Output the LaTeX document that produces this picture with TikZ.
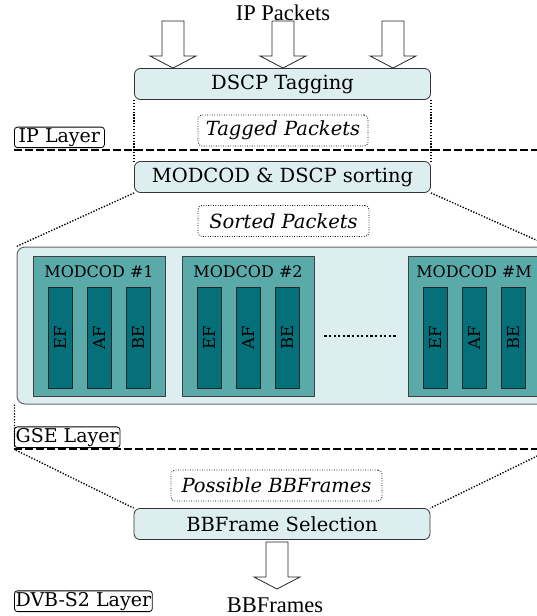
\documentclass[tikz,border=0pt]{standalone}
\usepackage{fontspec}
\setmainfont{DejaVu Serif}
\newfontfamily\timesfont{Liberation Serif}
\usetikzlibrary{positioning}
\definecolor{paleblue}{HTML}{DDEEF0}
\definecolor{modteal}{HTML}{5AAAAA}
\definecolor{barteal}{HTML}{05707A}
\tikzset{pics/fatarrow/.style={code={
  \draw[fill=white,draw=black!85,line width=0.8pt] (-11,0) -- (-11,35) -- (-23,35) -- (0,47) -- (23,35) -- (11,35) -- (11,0) -- cycle;}}}

\begin{document}
\begin{tikzpicture}[x=1pt,y=-1pt,
  stagebox/.style={draw=black!80,line width=0.8pt,rounded corners=6pt,fill=paleblue,minimum width=296pt,minimum height=31pt,inner sep=0pt,font=\fontsize{19.5}{23}\selectfont},
  flowlabel/.style={draw,line width=0.8pt,dash pattern=on 0.8pt off 1.6pt,rounded corners=4pt,inner sep=0pt,minimum height=31pt,font=\fontsize{19.5}{23}\selectfont\itshape},
  layerlabel/.style={draw,line width=0.8pt,rounded corners=3pt,inner sep=1.2pt,anchor=south west,font=\fontsize{19}{23}\selectfont},
  layerline/.style={line width=1.7pt,dash pattern=on 8pt off 3pt},
  guide/.style={line width=1.4pt,dash pattern=on 1.3pt off 1.6pt},
  modbox/.style={draw=black!75,line width=0.8pt,fill=modteal,minimum width=132pt,minimum height=140pt},
  modtitle/.style={font=\fontsize{16}{19}\selectfont},
  qbar/.style={draw=black!85,line width=0.8pt,fill=barteal,rotate=90,minimum width=101pt,minimum height=24pt,inner sep=0pt,font=\fontsize{16.5}{19}\selectfont}]
\useasboundingbox (0,0) rectangle (537,616);

% IP layer
\node[font=\timesfont\fontsize{22.5}{26}\selectfont] (ippk) at (283,13) {IP Packets};
\foreach \x in {173,283,393}
  \pic at (\x,21) {fatarrow};
\node[stagebox] (tag) at (282.5,84) {DSCP Tagging};
\node[flowlabel,minimum width=170pt] (tagged) at (283,130.5) {Tagged Packets};
\node[layerlabel,minimum width=90pt] (iplayer) at (14,148) {IP Layer};
\coordinate (rightend) at (560,0);
\draw[layerline] ([yshift=-2pt]iplayer.south west) -- ([yshift=-2pt]iplayer.south west -| rightend);

% GSE layer
\node[stagebox] (sort) at (282.5,177) {MODCOD \& DSCP sorting};
\draw[guide] (tag.south west) -- (sort.north west);
\draw[guide] (tag.south east) -- (sort.north east);
\node[flowlabel,minimum width=171pt] (sorted) at (283.5,221) {Sorted Packets};
\node[draw=black!60,line width=1pt,fill=paleblue,rounded corners=8pt,minimum width=533pt,minimum height=157pt] (gse) at (283.5,325.5) {};
\draw[guide] (sort.south west) -- (gse.north west);
\draw[guide] (sort.south east) -- (gse.north east);
\foreach \m/\x/\t in {mc1/99/1,mc2/248/2,mcM/474/M}{
  \node[modbox] (\m) at (\x,326) {};
  \node[modtitle] (\m-t) at ([yshift=-16pt]\m.north) {MODCOD \#\t};
  \foreach \b/\dx in {EF/-39,AF/0,BE/39}
    \node[qbar] (\m-\b) at ([xshift=\dx pt,yshift=-11.5pt]\m.center) {\b};
}
\draw[line width=2.2pt,dash pattern=on 2.2pt off 2.4pt,shorten <=10pt,shorten >=11pt] ([yshift=-10pt]mc2.east) -- ([yshift=-10pt]mcM.west);
\node[layerlabel] (gselayer) at (14,448) {GSE Layer};
\draw[layerline] ([yshift=-1pt]gselayer.south west) -- ([yshift=-1pt]gselayer.south west -| rightend);

% DVB-S2 layer
\node[stagebox] (bbsel) at (282,524) {BBFrame Selection};
\node[flowlabel,minimum width=211pt] (possible) at (276.5,485.5) {Possible BBFrames};
\coordinate (gsebl) at ([xshift=-2pt,yshift=-45pt]gse.south west);
\coordinate (gsebr) at ([yshift=-45pt]gse.south east);
\draw[guide] ([xshift=-2pt]gse.south west) -- (gsebl) -- (bbsel.north west);
\draw[guide] (gsebr) -- (bbsel.north east);
\pic at (277,542) {fatarrow};
\node[font=\timesfont\fontsize{22.5}{26}\selectfont] (bbf) at (275,605) {BBFrames};
\node[layerlabel] (dvblayer) at (14,612) {DVB-S2 Layer};
\end{tikzpicture}
\end{document}
